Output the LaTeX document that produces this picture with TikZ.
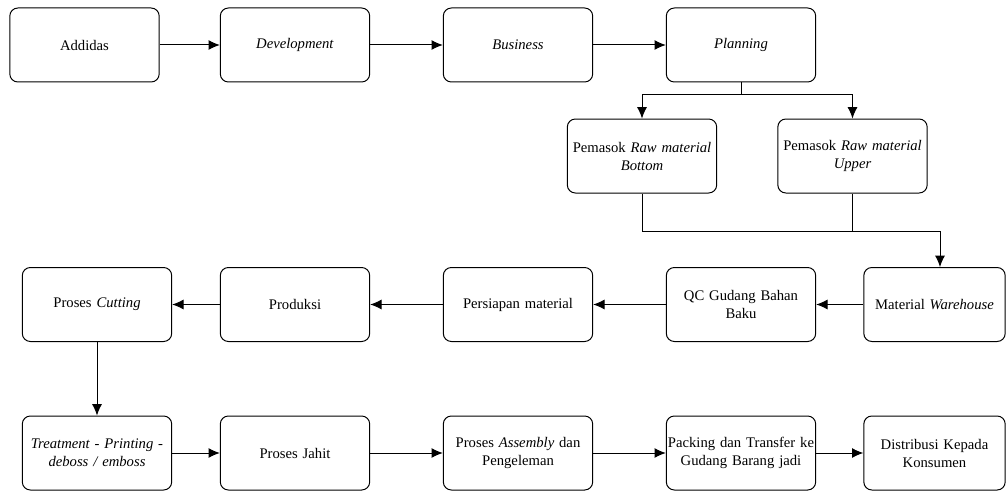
\documentclass[tikz,border=0pt]{standalone}
\usepackage{fontspec}
\setmainfont{Liberation Serif}
\usetikzlibrary{arrows.meta}
\begin{document}
\begin{tikzpicture}[x=0.75pt,y=-0.75pt,
  box/.style={draw, line width=0.75pt, rounded corners=6pt, minimum height=55.5pt,
    align=center, inner sep=1pt, font=\fontsize{11}{13.5}\selectfont},
  w150/.style={box, minimum width=111.5pt, text width=110pt},
  w141/.style={box, minimum width=105.5pt, text width=104pt},
  conn/.style={line width=0.75pt},
  arr/.style={conn, -{Latex[length=8.5pt,width=7.5pt]}}]
\useasboundingbox (0,0) rectangle (1006,492);
% top row
\node[w150] (add)  at (84.5,45) {Addidas};
\node[w150] (dev)  at (295,45) {\textit{Development}};
\node[w150] (bus)  at (518,45) {\textit{Business}};
\node[w150] (plan) at (741,45) {\textit{Planning}};
% suppliers
\node[w150] (pbot) at (642,156) {Pemasok \textit{Raw material}\\\textit{Bottom}};
\node[w150] (pup)  at (852.5,156) {Pemasok \textit{Raw material}\\\textit{Upper}};
% middle row
\node[w150] (cut)  at (97,304.5) {Proses \textit{Cutting}};
\node[w150] (prod) at (295,304.5) {Produksi};
\node[w150] (pers) at (518,304.5) {Persiapan material};
\node[w150] (qc)   at (741,304.5) {QC Gudang Bahan\\Baku};
\node[w141] (mw)   at (934.5,304.5) {Material \textit{Warehouse}};
% bottom row
\node[w150] (treat) at (97,453) {\textit{Treatment - Printing -}\\\textit{deboss / emboss}};
\node[w150] (jahit) at (295,453) {Proses Jahit};
\node[w150] (asm)   at (518,453) {Proses \textit{Assembly} dan\\Pengeleman};
\node[w150] (pack)  at (741,453) {Packing dan Transfer ke\\Gudang Barang jadi};
\node[w141] (dist)  at (934.5,453) {Distribusi Kepada\\Konsumen};
% connectors
\coordinate (split) at (741,94);
\coordinate (merge) at (940,231);
\draw[arr] (add) -- (dev);
\draw[arr] (dev) -- (bus);
\draw[arr] (bus) -- (plan);
\draw[conn] (plan.south) -- (split);
\draw[arr] (split) -| (pbot.north);
\draw[arr] (split) -| (pup.north);
\draw[conn] (pbot.south) |- (merge);
\draw[conn] (pup.south) -- (pup.south |- merge);
\draw[arr] (merge) -- (merge |- mw.north);
\draw[arr] (mw) -- (qc);
\draw[arr] (qc) -- (pers);
\draw[arr] (pers) -- (prod);
\draw[arr] (prod) -- (cut);
\draw[arr] (cut) -- (treat);
\draw[arr] (treat) -- (jahit);
\draw[arr] (jahit) -- (asm);
\draw[arr] (asm) -- (pack);
\draw[arr] (pack) -- (dist);
\end{tikzpicture}
\end{document}
